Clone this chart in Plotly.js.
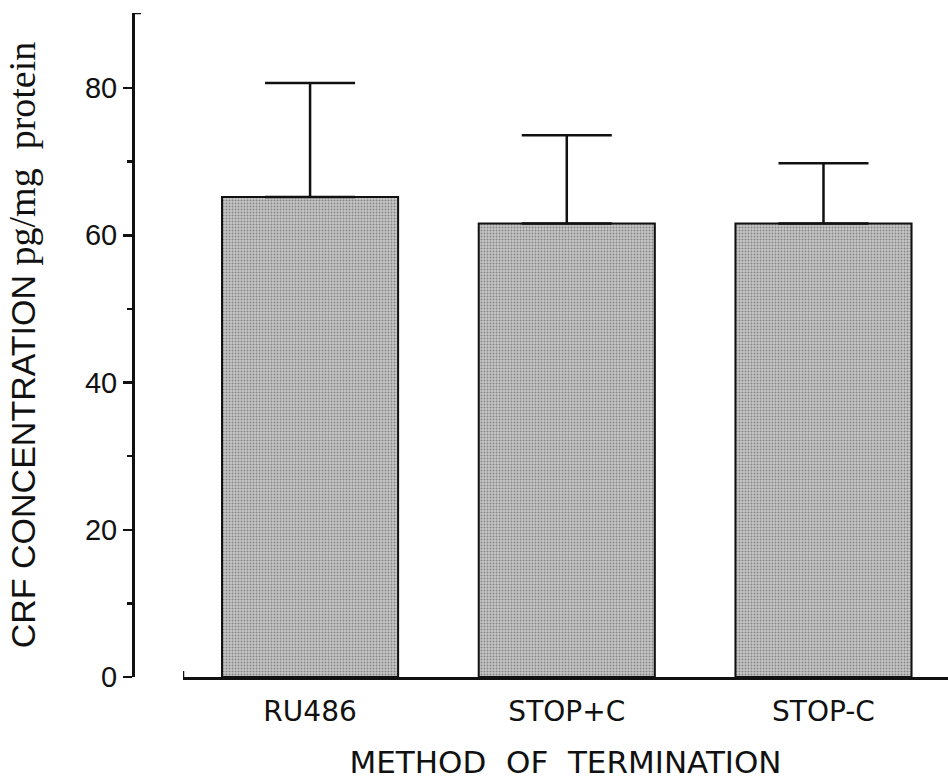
<!DOCTYPE html>
<html>
<head>
<meta charset="utf-8">
<script src="https://cdn.plot.ly/plotly-3.0.1.min.js"></script>
<style>html,body{margin:0;padding:0;background:#fff;}</style>
</head>
<body>
<div id="chart" style="width:948px;height:782px;"></div>
<script>
const categories = ["RU486", "STOP+C", "STOP-C"];
const means = [65.2, 61.6, 61.6];
const errors = [15.5, 12.0, 8.2];
const yTickVals = [0, 20, 40, 60, 80];
const yMinorVals = [10, 30, 50, 70];

const trace = {
  type: 'bar',
  x: categories,
  y: means,
  width: 0.686,
  marker: {
    color: '#b4b4b4',
    line: {color: '#111', width: 2},
    pattern: {shape: '.', fgcolor: '#858585', bgcolor: '#c8c8c8', size: 3, solidity: 0.35}
  },
  error_y: {type: 'data', array: errors, symmetric: false, arrayminus: [0,0,0], visible: true,
            color: '#111', thickness: 2.5, width: 45},
  hoverinfo: 'skip'
};

const layout = {
  width: 948, height: 782,
  margin: {l: 133, r: 0, t: 13, b: 105},
  paper_bgcolor: '#fff', plot_bgcolor: '#fff',
  showlegend: false,
  xaxis: {
    domain: [50/815, 1],
    range: [-0.495, 2.485],
    showline: true, linecolor: '#111', linewidth: 2.5,
    ticks: '', showgrid: false, zeroline: false,
    ticklabelstandoff: 8,
    tickfont: {family: 'DejaVu Sans', size: 28, color: '#111'},
    title: {text: 'METHOD&nbsp; OF&nbsp; TERMINATION', font: {family: 'DejaVu Sans', size: 31, color: '#111'}, standoff: 24}
  },
  yaxis: {
    anchor: 'free', position: 0,
    range: [0, 90.2],
    showline: true, linecolor: '#111', linewidth: 2.5,
    showgrid: false, zeroline: false,
    tickmode: 'array', tickvals: yTickVals, ticktext: yTickVals.map(String),
    ticks: 'outside', ticklen: 9, tickwidth: 2.5, tickcolor: '#111',
    minor: {tickmode: 'array', tickvals: yMinorVals, ticks: 'outside', ticklen: 5, tickwidth: 2.5, tickcolor: '#111'},
    tickfont: {family: 'Liberation Sans, Arial', size: 29, color: '#111'},
    title: {text: 'CRF CONCENTRATION <span style="font-family:\'Liberation Serif\',serif;font-size:38px">pg/mg&nbsp; protein</span>',
            font: {family: 'Liberation Sans, Arial', size: 34, color: '#111'}, standoff: 38}
  },
  shapes: [
    {type: 'line', xref: 'paper', yref: 'y', y0: 90.2, y1: 90.2, xsizemode: 'pixel', xanchor: 0, x0: 0, x1: 8, line: {color: '#111', width: 2.5}},
    {type: 'line', xref: 'x', yref: 'y', x0: -0.495, x1: -0.495, ysizemode: 'pixel', yanchor: 0, y0: 0, y1: 6, line: {color: '#111', width: 2.5}}
  ]
};

Plotly.newPlot('chart', [trace], layout, {displayModeBar: false, staticPlot: true});
</script>
</body>
</html>
